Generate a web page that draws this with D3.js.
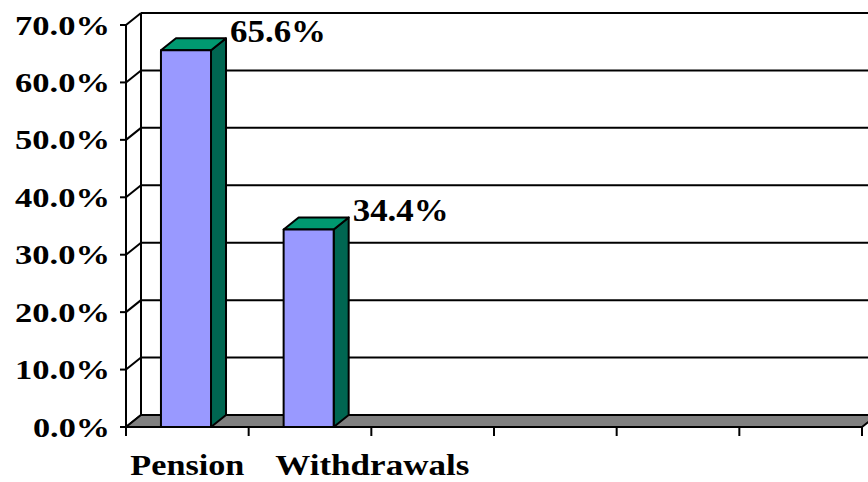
<!DOCTYPE html>
<html>
<head>
<meta charset="utf-8">
<script src="https://cdn.jsdelivr.net/npm/d3@7/dist/d3.min.js"></script>
<style>
  html, body { margin: 0; padding: 0; background: #ffffff; }
  svg { display: block; }
</style>
</head>
<body>
<svg id="chart" width="868" height="482"></svg>
<script>
// ---- data ----
const categories = ["Pension", "Withdrawals", "", "", "", ""];
const values = [0.656, 0.344, null, null, null, null];
const dataLabels = ["65.6%", "34.4%", "", "", "", ""];
const yTicks = [0, 0.1, 0.2, 0.3, 0.4, 0.5, 0.6, 0.7];

// ---- layout ----
const W = 868, H = 482;
const x0 = 126, x1 = 862;      // front axis extent
const yBase = 427, yTop = 25;  // front 0% and 70%
const dx = 15, dy = -12;       // 3D depth offset
const stroke = "#000";
const lw = 2;
const FONT = "'Liberation Serif'";

const svg = d3.select("#chart");
const txt = (sel) => sel.append("text").attr("font-family", FONT).attr("font-weight", 700).attr("fill", "#000");

const y = d3.scaleLinear().domain([0, 0.7]).range([yBase, yTop]);
const x = d3.scaleBand().domain(d3.range(categories.length)).range([x0, x1]).padding(0);
const bw = x.bandwidth();
const barOff = bw * 0.285, barW = bw * 0.408;

// back wall gridlines
const grid = svg.append("g");
yTicks.forEach(t => {
  const yy = y(t);
  if (t > 0) {
    grid.append("line").attr("x1", x0 + dx).attr("x2", W + 5)
      .attr("y1", yy + dy).attr("y2", yy + dy)
      .attr("stroke", stroke).attr("stroke-width", lw);
  }
  grid.append("line").attr("x1", x0).attr("y1", yy).attr("x2", x0 + dx).attr("y2", yy + dy)
    .attr("stroke", stroke).attr("stroke-width", lw);
});
grid.append("line").attr("x1", x0 + dx).attr("x2", x0 + dx)
  .attr("y1", y(0.7) + dy).attr("y2", y(0) + dy)
  .attr("stroke", stroke).attr("stroke-width", lw);

// floor
svg.append("polygon")
  .attr("points", [[x0, yBase], [x1, yBase], [x1 + dx, yBase + dy], [x0 + dx, yBase + dy]].map(p => p.join(",")).join(" "))
  .attr("fill", "#808080").attr("stroke", stroke).attr("stroke-width", lw).attr("stroke-linejoin", "round");

// front y axis
svg.append("line").attr("x1", x0).attr("x2", x0).attr("y1", y(0.7)).attr("y2", yBase + 9)
  .attr("stroke", stroke).attr("stroke-width", lw);
const fmt = d3.format(".1%");
yTicks.forEach(t => {
  const yy = y(t);
  svg.append("line").attr("x1", x0 - 6).attr("x2", x0).attr("y1", yy).attr("y2", yy)
    .attr("stroke", stroke).attr("stroke-width", lw);
  const w = t === 0 ? 77 : 95;
  txt(svg).attr("font-size", 28).attr("y", yy + 9.5)
    .attr("x", 110 - w).attr("textLength", w).attr("lengthAdjust", "spacingAndGlyphs")
    .text(fmt(t));
});

// x axis ticks
d3.range(categories.length + 1).forEach(i => {
  const xx = x0 + i * bw;
  svg.append("line").attr("x1", xx).attr("x2", xx).attr("y1", yBase).attr("y2", yBase + 9)
    .attr("stroke", stroke).attr("stroke-width", lw);
});
svg.append("line").attr("x1", x0).attr("x2", x1).attr("y1", yBase).attr("y2", yBase)
  .attr("stroke", stroke).attr("stroke-width", lw);

// bars
const bars = svg.append("g");
values.forEach((v, i) => {
  if (v == null) return;
  const bx = x(i) + barOff, yt = y(v);
  const g = bars.append("g").attr("stroke", stroke).attr("stroke-width", lw).attr("stroke-linejoin", "round");
  g.append("polygon").attr("fill", "#006651")
    .attr("points", [[bx + barW, yt], [bx + barW + dx, yt + dy], [bx + barW + dx, yBase + dy], [bx + barW, yBase]].map(p => p.join(",")).join(" "));
  g.append("polygon").attr("fill", "#009970")
    .attr("points", [[bx, yt], [bx + barW, yt], [bx + barW + dx, yt + dy], [bx + dx, yt + dy]].map(p => p.join(",")).join(" "));
  g.append("rect").attr("x", bx).attr("y", yt).attr("width", barW).attr("height", yBase - yt)
    .attr("fill", "#9999FF");
  txt(svg).attr("font-size", 32)
    .attr("x", bx + barW + dx + 4).attr("y", yt + dy + 4)
    .attr("textLength", 96).attr("lengthAdjust", "spacingAndGlyphs")
    .text(dataLabels[i]);
});

// category labels with simple overlap avoidance
const catWidths = { "Pension": 114, "Withdrawals": 194 };
let prevRight = -Infinity;
categories.forEach((c, i) => {
  if (!c) return;
  const w = catWidths[c];
  let left = x(i) + bw / 2 - w / 2;
  if (left < prevRight + 31) left = prevRight + 31;
  txt(svg).attr("font-size", 29).attr("y", 474.5)
    .attr("x", left).attr("textLength", w).attr("lengthAdjust", "spacingAndGlyphs").text(c);
  prevRight = left + w;
});
</script>
</body>
</html>
